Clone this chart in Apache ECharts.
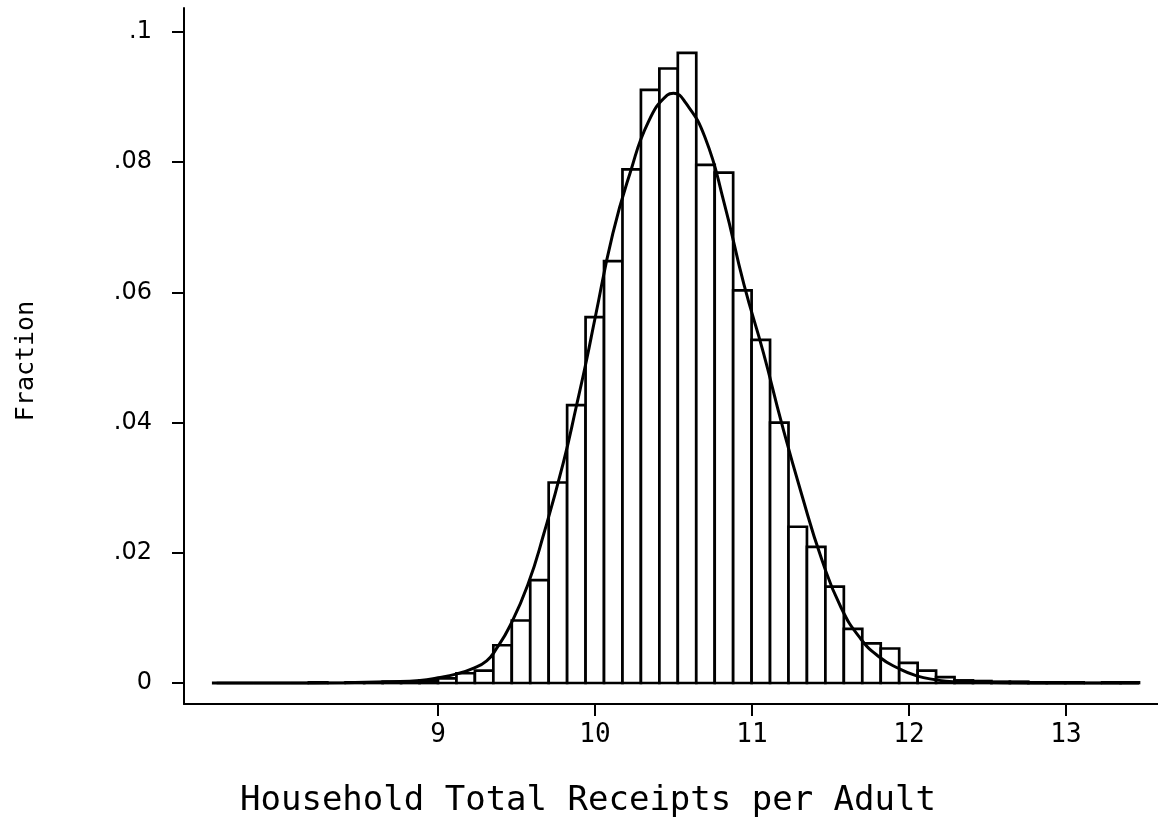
<!DOCTYPE html>
<html>
<head>
<meta charset="utf-8">
<script src="https://cdn.jsdelivr.net/npm/echarts@6/dist/echarts.min.js"></script>
<style>
html,body{margin:0;padding:0;background:#fff;}
#chart{width:1158px;height:825px;}
</style>
</head>
<body>
<div id="chart"></div>
<script>
// ---- data ----
const binStart = 7.59;      // left edge of first bin
const binWidth = 0.1175;    // histogram bin width
const fractions = [
  0, 0, 0, 0, 0, 0.0001, 0, 0.0001, 0.0001, 0.0002,
  0.0002, 0.0004, 0.0007, 0.0015, 0.0019, 0.0058, 0.0096, 0.0158, 0.0308, 0.0427,
  0.0562, 0.0648, 0.0789, 0.0911, 0.0944, 0.0968, 0.0796, 0.0784, 0.0603, 0.0527,
  0.0400, 0.0240, 0.0209, 0.0148, 0.0083, 0.0061, 0.0053, 0.0031, 0.0019, 0.0009,
  0.0004, 0.0003, 0.0002, 0.0002, 0.0001, 0.0001, 0.0001, 0, 0.0001, 0.0001
];
const curveX = [7.56, 8.0, 8.4, 8.7, 8.885, 9.0, 9.12, 9.22, 9.31, 9.37, 9.459, 9.571, 9.675, 9.798, 9.883, 9.947, 10.0, 10.113, 10.223, 10.34, 10.46, 10.5, 10.578, 10.701, 10.822, 10.949, 11.072, 11.19, 11.316, 11.444, 11.567, 11.692, 11.811, 11.928, 12.049, 12.17, 12.28, 12.6, 13.0, 13.465];
const curveY = [0, 0, 0.00005, 0.0002, 0.0004, 0.0008, 0.0014, 0.0022, 0.0034, 0.0052, 0.0088, 0.0150, 0.0230, 0.0338, 0.0427, 0.0497, 0.0560, 0.0690, 0.0783, 0.0862, 0.0903, 0.0906, 0.0891, 0.0838, 0.0738, 0.0612, 0.0508, 0.0398, 0.0290, 0.0190, 0.0116, 0.0068, 0.0040, 0.0023, 0.0011, 0.0005, 0.0002, 0.00005, 0, 0];
const xTicks = [9, 10, 11, 12, 13];
const yTicks = [0, 0.02, 0.04, 0.06, 0.08, 0.1];
const xTitle = 'Household Total Receipts per Adult';
const yTitle = 'Fraction';

// ---- build series data ----
const barData = fractions.map((f, i) => [binStart + i * binWidth, binStart + (i + 1) * binWidth, f]);
const curveData = curveX.map((x, i) => [x, curveY[i]]);

const chart = echarts.init(document.getElementById('chart'), null, {renderer: 'canvas'});
const mono = 'DejaVu Sans Mono';
chart.setOption({
  animation: false,
  backgroundColor: '#ffffff',
  grid: {left: 184, right: 0, top: 8, bottom: 121},
  xAxis: {
    type: 'value',
    min: 7.3822,
    max: 13.586,
    axisLine: {show: true, onZero: false, lineStyle: {color: '#000', width: 2}},
    axisTick: {show: true, customValues: xTicks, length: 12, lineStyle: {color: '#000', width: 2}},
    axisLabel: {customValues: xTicks, margin: 18, color: '#000', fontFamily: mono, fontSize: 26},
    splitLine: {show: false}
  },
  yAxis: {
    type: 'value',
    min: -0.003226,
    max: 0.10369,
    axisLine: {show: true, onZero: false, lineStyle: {color: '#000', width: 2}},
    axisTick: {show: true, customValues: yTicks, length: 12, lineStyle: {color: '#000', width: 2}},
    axisLabel: {
      customValues: yTicks, margin: 32, color: '#000', fontFamily: 'DejaVu Sans', fontSize: 24,
      padding: [14, 0, 0, 0],
      formatter: function (v) { return v === 0 ? '0' : String(+v.toFixed(4)).replace(/^0/, ''); }
    },
    splitLine: {show: false}
  },
  series: [
    {
      type: 'custom',
      data: barData,
      encode: {x: [0, 1], y: 2},
      clip: false,
      renderItem: function (params, api) {
        const p0 = api.coord([api.value(0), api.value(2)]);
        const p1 = api.coord([api.value(1), 0]);
        return {
          type: 'rect',
          shape: {x: p0[0], y: p0[1], width: p1[0] - p0[0], height: p1[1] - p0[1]},
          style: {fill: '#ffffff', stroke: '#000000', lineWidth: 2.7}
        };
      },
      z: 2
    },
    {
      type: 'line',
      data: curveData,
      smooth: 0.5,
      symbol: 'none',
      lineStyle: {color: '#000', width: 3},
      z: 3
    }
  ],
  graphic: [
    {
      type: 'text', x: 240, y: 801,
      style: {text: xTitle, fontFamily: mono, fontSize: 34, fill: '#000', align: 'left', verticalAlign: 'middle'}
    },
    {
      type: 'text', x: 26, y: 361, rotation: Math.PI / 2,
      style: {text: yTitle, fontFamily: mono, fontSize: 25, fill: '#000', align: 'center', verticalAlign: 'middle'}
    }
  ]
});
</script>
</body>
</html>
